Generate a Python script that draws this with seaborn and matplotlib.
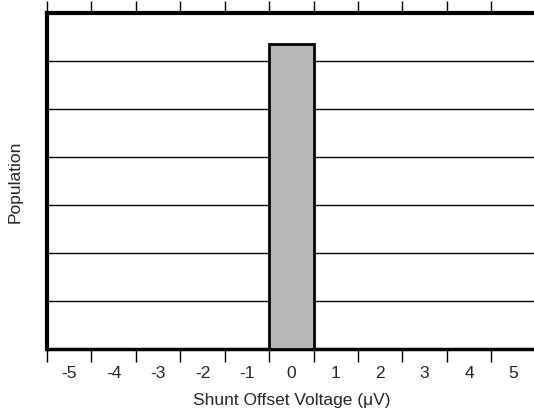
import numpy as np
import pandas as pd
import seaborn as sns
from matplotlib import pyplot as plt
from matplotlib.ticker import FixedLocator

# histogram data
voltages = [-5, -4, -3, -2, -1, 0, 1, 2, 3, 4, 5]
population = [0, 0, 0, 0, 0, 6.35, 0, 0, 0, 0, 0]

df = pd.DataFrame({"voltage": voltages, "population": population})

sns.set_style("white")
plt.rcParams['font.family'] = ['Liberation Sans', 'DejaVu Sans']

fig = plt.figure(figsize=(5.34, 4.14), dpi=100)
ax = fig.add_axes([0.088, 0.155, 0.915, 0.811])

sns.barplot(data=df, x="voltage", y="population", order=voltages,
            color="#b9b9b9", saturation=1, width=1.0,
            edgecolor="black", linewidth=2, ax=ax, zorder=3)

ax.set_xlim(-0.5, len(voltages) - 0.5)
ax.set_ylim(0, 7)

# horizontal grid lines
ax.set_yticks(np.arange(1, 7))
ax.set_yticklabels([])
ax.tick_params(axis="y", length=0)
ax.yaxis.grid(True, color="black", linewidth=1)
ax.set_axisbelow(True)

# labels at bar centres, tick marks at bin edges
ax.set_xticks(range(len(voltages)))
ax.set_xticklabels([str(v) for v in voltages], fontsize=12.5)
ax.xaxis.set_minor_locator(FixedLocator(np.arange(-0.5, len(voltages), 1.0)))
ax.tick_params(axis="x", which="major", length=0, pad=12)
ax.tick_params(axis="x", which="minor", length=9, width=1, color="black",
               direction="out", top=True, bottom=True)

for side in ["left", "top", "bottom"]:
    ax.spines[side].set_visible(True)
    ax.spines[side].set_color("black")
ax.spines["left"].set_linewidth(3)
ax.spines["top"].set_linewidth(3)
ax.spines["bottom"].set_linewidth(2.5)
ax.spines["right"].set_visible(False)

ax.set_xlabel("Shunt Offset Voltage (\u03bcV)", fontsize=12.5, labelpad=8)
ax.set_ylabel("Population", fontsize=12.5, labelpad=14)

fig.savefig("out.png", dpi=100)
